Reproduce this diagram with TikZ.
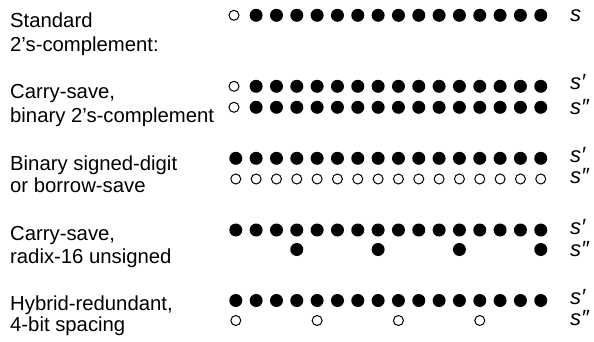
\documentclass[tikz,border=0pt]{standalone}
\usepackage{fontspec}
\setmainfont{Liberation Sans}
\begin{document}
\begin{tikzpicture}[x=1pt,y=-1pt,
  full/.style={circle,fill=black,inner sep=0pt,minimum size=13pt},
  hollow/.style={circle,draw=black,line width=1pt,inner sep=0pt,minimum size=10pt},
  lbl/.style={anchor=base west,inner sep=0pt,font=\fontsize{20.3}{24}\selectfont},
  sv/.style={anchor=base west,inner sep=0pt,text height=11pt,text depth=0pt,font=\fontsize{22}{24}\selectfont\itshape}]
\useasboundingbox (0,0) rectangle (594,342);
% left labels
\node[lbl] (l1a) at (10,27.3) {Standard};
\node[lbl] (l1b) at (10,51.7) {2's-complement:};
\node[lbl] (l2a) at (10,99) {Carry-save,};
\node[lbl] (l2b) at (10,123) {binary 2's-complement};
\node[lbl] (l3a) at (10,170) {Binary signed-digit};
\node[lbl] (l3b) at (10,192.7) {or borrow-save};
\node[lbl] (l4a) at (10,240.7) {Carry-save,};
\node[lbl] (l4b) at (10,263) {radix-16 unsigned};
\node[lbl] (l5a) at (10,310) {Hybrid-redundant,};
\node[lbl] (l5b) at (10,331.7) {4-bit spacing};
% row 1
\node[hollow] (a0) at (234,15.3) {};
\foreach \i in {1,...,15} \node[full] (a\i) at ({235.8+20.33*\i},15.3) {};
% row 2
\node[hollow] (b0) at (234,86.3) {};
\foreach \i in {1,...,15} \node[full] (b\i) at ({235.8+20.33*\i},86.3) {};
\node[hollow] (c0) at (234,107.3) {};
\foreach \i in {1,...,15} \node[full] (c\i) at ({235.8+20.33*\i},107.3) {};
% row 3
\foreach \i in {0,...,15} \node[full] (d\i) at ({235.8+20.33*\i},158.3) {};
\foreach \i in {0,...,15} \node[hollow] (e\i) at ({235.8+20.33*\i},179) {};
% row 4
\foreach \i in {0,...,15} \node[full] (f\i) at ({235.8+20.33*\i},230) {};
\foreach \i in {3,7,11,15} \node[full] (g\i) at ({235.8+20.33*\i},249.5) {};
% row 5
\foreach \i in {0,...,15} \node[full] (h\i) at ({235.8+20.33*\i},300.5) {};
\foreach \i in {0,4,8,12} \node[hollow] (k\i) at ({235.8+20.33*\i},320.5) {};
% right labels
\node[sv] (s1) at (570,21.7) {s};
\node[sv] (s2a) at (570,90) {s′};
\node[sv] (s2b) at (570,114) {s″};
\node[sv] (s3a) at (570,162) {s′};
\node[sv] (s3b) at (570,183) {s″};
\node[sv] (s4a) at (570,234) {s′};
\node[sv] (s4b) at (570,256) {s″};
\node[sv] (s5a) at (570,304) {s′};
\node[sv] (s5b) at (570,325) {s″};
\end{tikzpicture}
\end{document}
